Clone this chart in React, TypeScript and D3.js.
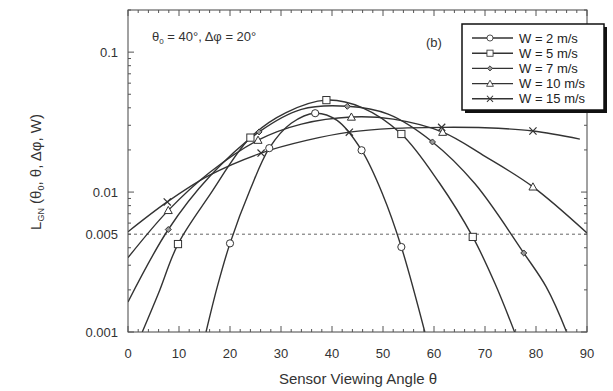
import React, { useEffect, useRef } from "react";
import * as d3 from "d3";

// readings: [theta (deg), L_GN]
const w2Points = [[15.3, 0.001], [17.5, 0.0021], [20, 0.0043], [24, 0.0105], [27.7, 0.0206], [32, 0.031], [36.7, 0.0366], [41, 0.0325], [45.8, 0.0199], [50, 0.0095], [53.6, 0.00405], [58.2, 0.001]];
const w5Points = [[2.8, 0.001], [6, 0.0019], [9.8, 0.00425], [16, 0.0095], [24, 0.0245], [31, 0.037], [38.9, 0.0454], [46, 0.04], [53.6, 0.026], [61, 0.0117], [67.6, 0.00478], [72, 0.0022], [75.8, 0.001]];
const w7Points = [[0, 0.00164], [7.9, 0.0054], [16, 0.0129], [25.7, 0.0269], [34, 0.039], [43, 0.041], [51, 0.036], [59.7, 0.0228], [68, 0.0115], [77.6, 0.00367], [82, 0.0021], [86, 0.001]];
const w10Points = [[0, 0.0034], [7.9, 0.0074], [16, 0.0138], [25.5, 0.0235], [34, 0.0306], [43.8, 0.0344], [52, 0.0332], [61.7, 0.0268], [70, 0.018], [79.4, 0.0109], [90, 0.0051]];
const w15Points = [[0, 0.0052], [7.7, 0.0085], [16, 0.0132], [26.1, 0.019], [35, 0.0234], [43.4, 0.0268], [52, 0.0285], [61.5, 0.029], [70, 0.0288], [79.4, 0.0273], [88.6, 0.0239]];

// angles where a symbol is drawn on each curve
const w2Marks = [20, 27.7, 36.7, 45.8, 53.6];
const w5Marks = [9.8, 24, 38.9, 53.6, 67.6];
const w7Marks = [7.9, 25.7, 43, 59.7, 77.6];
const w10Marks = [7.9, 25.5, 43.8, 61.7, 79.4];
const w15Marks = [7.7, 26.1, 43.4, 61.5, 79.4];

const seriesNames = ["W = 2 m/s", "W = 5 m/s", "W = 7 m/s", "W = 10 m/s", "W = 15 m/s"];
const seriesSymbols = ["circle", "square", "dot", "triangle", "cross"];

const xTicks = [0, 10, 20, 30, 40, 50, 60, 70, 80, 90];
const yTicks = [0.1, 0.01, 0.005, 0.001];
const yTickLabels = ["0.1", "0.01", "0.005", "0.001"];
const refLevel = 0.005;

const INK = "#333";

function drawSymbol(g, type, x, y, k = 1) {
  const s = g.append("g").attr("transform", `translate(${x},${y}) scale(${k})`);
  if (type === "circle") {
    s.append("circle").attr("r", 3.6).attr("fill", "white").attr("stroke", INK).attr("stroke-width", 1);
  } else if (type === "square") {
    s.append("rect").attr("x", -3.6).attr("y", -3.6).attr("width", 7.2).attr("height", 7.2)
      .attr("fill", "white").attr("stroke", INK).attr("stroke-width", 1);
  } else if (type === "dot") {
    s.append("path").attr("d", "M0,-3L3,0L0,3L-3,0Z")
      .attr("fill", "#999").attr("stroke", INK).attr("stroke-width", 1);
  } else if (type === "triangle") {
    s.append("path").attr("d", "M0,-4L4,3.2L-4,3.2Z")
      .attr("fill", "white").attr("stroke", INK).attr("stroke-width", 1);
  } else {
    s.append("path").attr("d", "M-3.6,-3.6L3.6,3.6M-3.6,3.6L3.6,-3.6").attr("stroke", INK).attr("stroke-width", 1.2);
  }
}

function App() {
  const svgRef = useRef(null);

  useEffect(() => {
    const svg = d3.select(svgRef.current);
    svg.selectAll("*").remove();

    const left = 128, right = 587, top = 10, bottom = 332;

    const xScale = d3.scaleLinear().domain([0, 90]).range([left, right]);
    const yScale = d3.scaleLog().domain([0.001, 0.2]).range([bottom, top]);

    svg.append("defs").append("clipPath").attr("id", "plotClip")
      .append("rect").attr("x", left).attr("y", top).attr("width", right - left).attr("height", bottom - top);

    // dashed reference
    svg.append("line")
      .attr("x1", left).attr("x2", right)
      .attr("y1", yScale(refLevel)).attr("y2", yScale(refLevel))
      .attr("stroke", "#555").attr("stroke-width", 0.9).attr("stroke-dasharray", "3,3");

    const allPoints = [w2Points, w5Points, w7Points, w10Points, w15Points];
    const allMarks = [w2Marks, w5Marks, w7Marks, w10Marks, w15Marks];

    const line = d3.line()
      .x((d) => xScale(d[0]))
      .y((d) => yScale(d[1]))
      .curve(d3.curveCatmullRom.alpha(0.5));

    const curves = svg.append("g").attr("clip-path", "url(#plotClip)");
    allPoints.forEach((pts) => {
      curves.append("path").attr("d", line(pts)).attr("fill", "none")
        .attr("stroke", INK).attr("stroke-width", 1.4);
    });

    allPoints.forEach((pts, i) => {
      allMarks[i].forEach((m) => {
        const p = pts.find((d) => d[0] === m);
        if (p) drawSymbol(svg, seriesSymbols[i], xScale(p[0]), yScale(p[1]));
      });
    });

    // frame
    svg.append("rect").attr("x", left).attr("y", top).attr("width", right - left).attr("height", bottom - top)
      .attr("fill", "none").attr("stroke", "#444").attr("stroke-width", 1);

    const ticks = svg.append("g").attr("stroke", "#555").attr("stroke-width", 1);
    // x ticks bottom/top, major every 10, minor every 2
    d3.range(0, 91, 2).forEach((v) => {
      const len = v % 10 === 0 ? 6 : 3;
      const x = xScale(v);
      ticks.append("line").attr("x1", x).attr("x2", x).attr("y1", bottom).attr("y2", bottom - len);
      ticks.append("line").attr("x1", x).attr("x2", x).attr("y1", top).attr("y2", top + len);
    });
    // y log ticks left/right
    [0.001, 0.01, 0.1].forEach((dec) => {
      d3.range(1, 10).forEach((k) => {
        const v = dec * k;
        if (v > 0.2) return;
        const len = k === 1 ? 6 : 3;
        const y = yScale(v);
        ticks.append("line").attr("x1", left).attr("x2", left + len).attr("y1", y).attr("y2", y);
        ticks.append("line").attr("x1", right).attr("x2", right - len).attr("y1", y).attr("y2", y);
      });
    });

    const font = "'Liberation Sans', Arial, sans-serif";

    svg.append("g").selectAll("text").data(xTicks).join("text")
      .attr("x", (d) => xScale(d)).attr("y", 358)
      .attr("text-anchor", "middle").attr("font-family", font).attr("font-size", 13).attr("fill", "#333")
      .text((d) => d);

    svg.append("g").selectAll("text").data(yTicks).join("text")
      .attr("x", 118).attr("y", (d) => yScale(d) + 4.5)
      .attr("text-anchor", "end").attr("font-family", font).attr("font-size", 13).attr("fill", "#333")
      .text((d, i) => yTickLabels[i]);

    // axis titles
    svg.append("text").attr("x", 358).attr("y", 384).attr("text-anchor", "middle")
      .attr("font-family", font).attr("font-size", 15).attr("fill", "#333")
      .text("Sensor Viewing Angle θ");

    const yt = svg.append("text").attr("transform", "translate(41,172) rotate(-90)")
      .attr("text-anchor", "middle").attr("font-family", font).attr("font-size", 15).attr("fill", "#333");
    yt.append("tspan").text("L");
    yt.append("tspan").attr("font-size", 9).attr("dy", 3).text("GN");
    yt.append("tspan").attr("dy", -3).text(" (θ");
    yt.append("tspan").attr("font-size", 9).attr("dy", 3).text("0");
    yt.append("tspan").attr("dy", -3).text(", θ, Δφ, W)");

    // annotations
    const ann = svg.append("text").attr("x", 152).attr("y", 41)
      .attr("font-family", font).attr("font-size", 13).attr("fill", "#333");
    ann.append("tspan").text("θ");
    ann.append("tspan").attr("font-size", 8).attr("dy", 3).text("0");
    ann.append("tspan").attr("dy", -3).text(" = 40°, Δφ = 20°");

    svg.append("text").attr("x", 426).attr("y", 47)
      .attr("font-family", font).attr("font-size", 13).attr("fill", "#333").text("(b)");

    // legend
    const lg = svg.append("g");
    lg.append("rect").attr("x", 465).attr("y", 27).attr("width", 142).attr("height", 86).attr("fill", "#111");
    lg.append("rect").attr("x", 462).attr("y", 24).attr("width", 142).attr("height", 86)
      .attr("fill", "white").attr("stroke", "#111").attr("stroke-width", 1.5);
    seriesNames.forEach((name, i) => {
      const y = 38 + i * 15.2;
      lg.append("line").attr("x1", 472).attr("x2", 513).attr("y1", y).attr("y2", y)
        .attr("stroke", INK).attr("stroke-width", 1.4);
      drawSymbol(lg, seriesSymbols[i], 490, y, 0.85);
      lg.append("text").attr("x", 519).attr("y", y + 4.5)
        .attr("font-family", font).attr("font-size", 13).attr("fill", "#222").text(name);
    });
  }, []);

  return (
    <svg
      ref={svgRef}
      width={613}
      height={391}
      style={{ position: "absolute", left: 0, top: 0, background: "white" }}
    />
  );
}

export default App;
